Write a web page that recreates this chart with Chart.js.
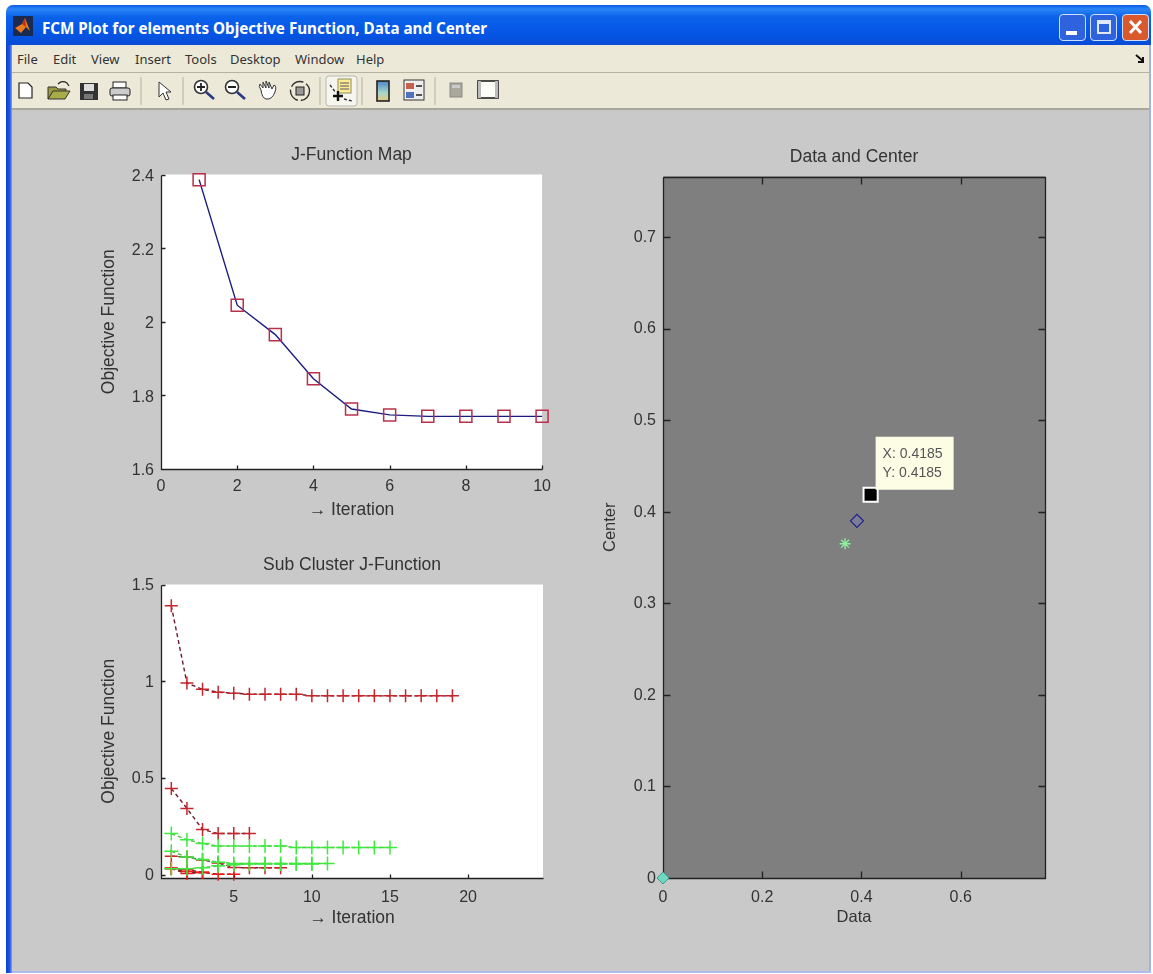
<!DOCTYPE html>
<html>
<head>
<meta charset="utf-8">
<title>FCM Plot for elements Objective Function, Data and Center</title>
<script src="https://cdn.jsdelivr.net/npm/chart.js@4"></script>
<style>
  html, body { margin: 0; padding: 0; background: #fff; overflow: hidden; }
  body { width: 1153px; height: 974px; position: relative; font-family: "Liberation Sans", Arial, sans-serif; }
  #win { position: absolute; left: 6px; top: 5px; width: 1145px; height: 968px; background: #c9c9c9; border-radius: 7px 7px 0 0; overflow: hidden;
         box-shadow: inset 0 -2px 0 #aebcf0, inset -2px 0 0 #a4b0ea; }
  #leftedge { position: absolute; left: 0; top: 40px; width: 6px; bottom: 0; background: linear-gradient(90deg, #0a3fd0, #1c56e6 60%, #7fa0f0); }
  #titlebar { position: absolute; left: 0; top: 0; right: 0; height: 40px; color: #fff;
              background: linear-gradient(180deg, #0a5cea 0, #2a86f6 10%, #0a62ea 30%, #0554e4 75%, #0a4cd4 100%); }
  #titlebar span { position: absolute; left: 36px; top: 13px; font: bold 15.2px "Noto Sans", sans-serif; white-space: nowrap; }
  #logo { position: absolute; left: 7px; top: 11px; }
  .winbtn { position: absolute; top: 9px; height: 27px; border: 1px solid #cfe0ff; border-radius: 4px; box-sizing: border-box; background: #2f63de; }
  #menubar { position: absolute; left: 6px; right: 2px; top: 40px; height: 27px; background: #ece9d8; border-bottom: 1px solid #b5b2a2; }
  #menubar span { position: absolute; top: 5px; font: 13px "Noto Sans", sans-serif; color: #333; }
  #toolbar { position: absolute; left: 6px; right: 2px; top: 68px; height: 35px; background: #ece9d8; border-bottom: 2px solid #aaa89a; }
  #toolbar svg { position: absolute; left: 0; top: 0; }
  canvas { position: absolute; }
</style>
</head>
<body>
<div id="win">
  <div id="titlebar">
    <svg id="logo" width="20" height="20" viewBox="0 0 20 20"><rect width="20" height="20" fill="#1a2a50"/><path d="M2 12 L9 8 L12 2 L17 15 L13 11 L8 17z" fill="#e87a20"/><path d="M9 8 L12 2 L13 11z" fill="#c03010"/></svg>
    <span>FCM Plot for elements Objective Function, Data and Center</span>
    <div class="winbtn" style="left:1053px;width:27px"><div style="position:absolute;left:6px;bottom:5px;width:11px;height:4px;background:#fff"></div></div>
    <div class="winbtn" style="left:1084px;width:27px"><div style="position:absolute;left:6px;top:5px;width:14px;height:14px;border:2px solid #dfe8ff;border-top-width:4px;box-sizing:border-box"></div></div>
    <div class="winbtn" style="left:1116px;width:27px;background:#d9582c">
      <svg width="25" height="25"><path d="M7 6 L18 18 M18 6 L7 18" stroke="#fff" stroke-width="3"/></svg>
    </div>
  </div>
  <div id="leftedge"></div>
  <div id="menubar">
    <span style="left:5px">File</span><span style="left:41px">Edit</span><span style="left:79px">View</span><span style="left:123px">Insert</span><span style="left:173px">Tools</span><span style="left:218px">Desktop</span><span style="left:283px">Window</span><span style="left:344px">Help</span>
    <svg style="position:absolute;right:3px;top:9px" width="12" height="10"><path d="M2 1 L9 7 M9 3 V8 H4" stroke="#111" stroke-width="2" fill="none"/></svg>
  </div>
  <div id="toolbar">
    <svg width="520" height="35" viewBox="12 73 520 35">
      <path d="M19 83h9l4 4v11H19z" fill="#fff" stroke="#222" stroke-width="1.2"/>
      <path d="M48 87h8l2 2h8v3H53l-5 7z" fill="#9a9a40" stroke="#333"/><path d="M48 99l5-8h17l-5 8z" fill="#a8ac48" stroke="#333"/><path d="M58 84q4-4 9-1l2 3" fill="none" stroke="#222" stroke-width="1.2"/>
      <rect x="80" y="83" width="18" height="17" fill="#333"/><rect x="84" y="84" width="10" height="7" fill="#ddd"/><rect x="84" y="94" width="9" height="5" fill="#777"/>
      <rect x="113" y="82" width="13" height="6" fill="#fff" stroke="#222"/><rect x="110" y="88" width="20" height="8" rx="2" fill="#ccc" stroke="#222"/><rect x="113" y="95" width="14" height="5" fill="#fff" stroke="#222"/>
      <path d="M159 82 V97 L163 93 L166 100 L169 99 L166 92 L171 92z" fill="#fff" stroke="#333"/>
      <g fill="#fff" stroke="#333" stroke-width="1.6"><circle cx="201" cy="87" r="6.5"/><circle cx="232" cy="87" r="6.5"/></g>
      <path d="M206 92 L214 99 M237 92 L245 99" stroke="#2a3a80" stroke-width="2.6"/>
      <path d="M197 87h8M201 83v8M228 87h8" stroke="#222" stroke-width="1.8"/>
      <path d="M261 90 Q258 86 260 84 L263 88 V82 L266 88 V81 L269 88 V82 L272 89 L274 85 Q277 86 275 92 Q272 100 266 99 Q262 98 261 90z" fill="#fff" stroke="#333"/>
      <circle cx="300" cy="91" r="9.5" fill="none" stroke="#333" stroke-width="1.4" stroke-dasharray="14 3"/><rect x="296" y="87" width="8" height="8" fill="#999" stroke="#222"/>
      <rect x="326" y="76" width="31" height="30" rx="3" fill="#f6f5ee" stroke="#b8b8b0"/>
      <rect x="338" y="79" width="13" height="14" fill="#ffec90" stroke="#889060"/><path d="M340 83h9M340 86h9M340 89h9" stroke="#556" stroke-width="1"/>
      <path d="M330 85 L336 93 M344 99 L352 101" stroke="#334" stroke-width="1.4" stroke-dasharray="3 2"/><path d="M333 96h10M338 91v10" stroke="#111" stroke-width="2.4"/>
      <defs><linearGradient id="cb" x1="0" y1="0" x2="0" y2="1"><stop offset="0" stop-color="#4a86c8"/><stop offset=".6" stop-color="#a8d8c8"/><stop offset="1" stop-color="#e8c880"/></linearGradient></defs>
      <rect x="377" y="81" width="12" height="20" fill="url(#cb)" stroke="#222" stroke-width="1.6"/>
      <rect x="404" y="80" width="20" height="20" fill="#eee" stroke="#333"/><rect x="406" y="83" width="8" height="6" fill="#c86050"/><rect x="406" y="92" width="8" height="6" fill="#5070c0"/><path d="M416 86h6M416 95h6" stroke="#222" stroke-width="1.4"/>
      <rect x="450" y="83" width="12" height="14" fill="#aaa89a" stroke="#888"/><rect x="452" y="85" width="8" height="3" fill="#ccc"/>
      <rect x="478" y="81" width="20" height="17" fill="#fdfdf8" stroke="#222" stroke-width="1.6"/><rect x="478" y="81" width="3" height="17" fill="#bbb"/><rect x="495" y="81" width="3" height="17" fill="#bbb"/>
      <g stroke="#b5b2a2"><path d="M141 77v28M183 77v28M320 77v28M362 77v28M435 77v28"/></g>
    </svg>
  </div>
</div>
<canvas id="mapChart"></canvas>
<canvas id="subChart"></canvas>
<canvas id="centerChart"></canvas>
<script>
// J-Function Map
const mapIter = [1, 2, 3, 4, 5, 6, 7, 8, 9, 10];
const mapJ = [2.386, 2.045, 1.965, 1.845, 1.763, 1.747, 1.743, 1.743, 1.743, 1.743];
const mapXTicks = [0, 2, 4, 6, 8, 10];
const mapYTicks = [1.6, 1.8, 2, 2.2, 2.4];

// Sub Cluster J-Function
const subIter = [1, 2, 3, 4, 5, 6, 7, 8, 9, 10, 11, 12, 13, 14, 15, 16, 17, 18, 19];
const redA = [1.39, 0.99, 0.958, 0.943, 0.938, 0.933, 0.933, 0.933, 0.933, 0.924, 0.924, 0.924, 0.924, 0.924, 0.924, 0.924, 0.924, 0.924, 0.924];
const redB = [0.445, 0.342, 0.233, 0.212, 0.212, 0.212];
const redC = [0.095, 0.09, 0.075, 0.06, 0.036, 0.035, 0.035, 0.035];
const redD = [0.031, 0.015, 0.01, 0.002, 0.002];
const redE = [0.034, 0.025, 0.012];
const redF = [0.03, 0.005, 0.01];
const greenA = [0.212, 0.18, 0.16, 0.147, 0.147, 0.147, 0.147, 0.147, 0.14, 0.14, 0.14, 0.14, 0.14, 0.14, 0.14];
const greenB = [0.12, 0.09, 0.078, 0.064, 0.057, 0.057, 0.057, 0.057, 0.057, 0.057, 0.057];
const greenC = [0.03, 0.03, 0.035, 0.045, 0.05, 0.055, 0.055, 0.055, 0.055, 0.055];
const subXTicks = [5, 10, 15, 20];
const subYTicks = [0, 0.5, 1, 1.5];

// Data and Center
const centerXTicks = [0, 0.2, 0.4, 0.6];
const centerYTicks = [0, 0.1, 0.2, 0.3, 0.4, 0.5, 0.6, 0.7];
const centerBlue = [0.391, 0.39];
const centerGreen = [0.367, 0.365];
const centerOrigin = [0, 0];
const cursorPoint = [0.4185, 0.4185];
const cursorLabels = ["X: 0.4185", "Y: 0.4185"];

const FONT = "Liberation Sans";
const TEXT = "#333";
const TITLE_SIZE = 17.5;

function pairs(xs, ys) {
  return ys.map((y, i) => ({ x: xs[i], y: y }));
}

// matlab style inward ticks + axis lines
const axesPlugin = {
  id: "matlabAxes",
  beforeDraw(chart, args, opts) {
    const a = chart.chartArea, ctx = chart.ctx;
    ctx.save();
    ctx.fillStyle = opts.bg;
    ctx.fillRect(a.left, a.top, a.right - a.left, a.bottom - a.top);
    ctx.restore();
  },
  beforeDatasetsDraw(chart, args, opts) {
    const a = chart.chartArea, ctx = chart.ctx, len = opts.tickLen;
    const L = Math.round(a.left) + 0.5, R = Math.round(a.right) + 0.5;
    const T = Math.round(a.top) + 0.5, B = Math.round(a.bottom) + 0.5;
    ctx.save();
    ctx.strokeStyle = "#222";
    ctx.lineWidth = 1.3;
    ctx.beginPath();
    ctx.moveTo(L, T); ctx.lineTo(L, B); ctx.lineTo(R, B);
    if (opts.box) { ctx.lineTo(R, T); ctx.lineTo(L, T); }
    chart.scales.x.ticks.forEach(t => {
      const px = Math.round(chart.scales.x.getPixelForValue(t.value)) + 0.5;
      ctx.moveTo(px, B); ctx.lineTo(px, B - len);
      if (opts.box) { ctx.moveTo(px, T); ctx.lineTo(px, T + len); }
    });
    chart.scales.y.ticks.forEach(t => {
      const py = Math.round(chart.scales.y.getPixelForValue(t.value)) + 0.5;
      ctx.moveTo(L, py); ctx.lineTo(L + len, py);
      if (opts.box) { ctx.moveTo(R, py); ctx.lineTo(R - len, py); }
    });
    ctx.stroke();
    ctx.restore();
  }
};

// the data cursor box next to the black marker
const cursorPlugin = {
  id: "cursorTip",
  afterDatasetsDraw(chart) {
    const ctx = chart.ctx;
    const px = chart.scales.x.getPixelForValue(cursorPoint[0]);
    const py = chart.scales.y.getPixelForValue(cursorPoint[1]);
    const bx = px + 5, by = py - 58;
    ctx.save();
    ctx.fillStyle = "#fdfde6";
    ctx.fillRect(bx, by, 78, 53);
    ctx.fillStyle = "#555";
    ctx.font = "14px " + FONT;
    ctx.textBaseline = "middle";
    ctx.fillText(cursorLabels[0], bx + 7, by + 17);
    ctx.fillText(cursorLabels[1], bx + 7, by + 36);
    ctx.restore();
  }
};

function makeAxes(box) {
  return {
    responsive: false,
    animation: false,
    events: [],
    layout: { padding: { left: 0, right: box.pr, top: 0, bottom: 0 } },
    plugins: {
      legend: { display: false },
      tooltip: { enabled: false },
      title: {
        display: true,
        text: box.title,
        color: TEXT,
        fullSize: false,
        font: { family: FONT, size: TITLE_SIZE, weight: "normal", lineHeight: 1 },
        padding: { top: 0, bottom: box.tp }
      },
      matlabAxes: { bg: box.bg, box: box.box, tickLen: box.tickLen }
    },
    scales: {
      x: {
        type: "linear",
        min: box.xMin,
        max: box.xMax,
        grid: { display: false, drawTicks: false },
        border: { display: false },
        afterBuildTicks: s => { s.ticks = box.xTicks.map(v => ({ value: v })); },
        afterFit: s => { s.height = box.bottom; },
        ticks: { autoSkip: false, maxRotation: 0, padding: box.xPad, color: TEXT,
                 font: { family: FONT, size: 16 }, callback: v => String(v) },
        title: { display: true, text: box.xTitle, color: TEXT,
                 font: { family: FONT, size: box.axisSize }, padding: 0 }
      },
      y: {
        type: "linear",
        min: box.yMin,
        max: box.yMax,
        grid: { display: false, drawTicks: false },
        border: { display: false },
        afterBuildTicks: s => { s.ticks = box.yTicks.map(v => ({ value: v })); },
        afterFit: s => { s.width = box.left; },
        ticks: { autoSkip: false, padding: 7, labelOffset: box.yOff, color: TEXT,
                 font: { family: FONT, size: 16 }, callback: v => String(v) },
        title: { display: true, text: box.yTitle, color: TEXT,
                 font: { family: FONT, size: box.axisSize }, padding: 0 }
      }
    }
  };
}

function place(id, b) {
  const c = document.getElementById(id);
  const w = b.left + b.plotW + b.pr;
  const h = TITLE_SIZE + b.tp + b.plotH + b.bottom;
  c.width = w;
  c.height = Math.ceil(h);
  c.style.left = (b.plotX - b.left) + "px";
  c.style.top = Math.floor(b.plotY - TITLE_SIZE - b.tp) + "px";
  return c;
}

function lineSet(xs, ys, color, lineColor, style, r, dash) {
  return {
    data: pairs(xs, ys),
    borderColor: lineColor,
    borderWidth: 1.4,
    borderDash: dash || [],
    pointStyle: style,
    pointRadius: r,
    pointBorderColor: color,
    pointBorderWidth: 1.5,
    pointBackgroundColor: "transparent",
    tension: 0,
    clip: false
  };
}

const mapBox = { plotX: 161, plotY: 175, plotW: 382, plotH: 294, left: 62, bottom: 52, pr: 16, tp: 11,
  xPad: 8, yOff: 2, tickLen: 4, axisSize: 17.5,
  title: "J-Function Map", bg: "#fff", box: false, xMin: 0, xMax: 10, yMin: 1.6, yMax: 2.4,
  xTicks: mapXTicks, yTicks: mapYTicks, xTitle: "\u2192 Iteration", yTitle: "Objective Function" };
new Chart(place("mapChart", mapBox), {
  type: "line",
  data: { datasets: [lineSet(mapIter, mapJ, "#b8304a", "#1c1c80", "rect", 8.5)] },
  options: makeAxes(mapBox),
  plugins: [axesPlugin]
});

const subBox = { plotX: 161, plotY: 585, plotW: 382, plotH: 293, left: 62, bottom: 51, pr: 16, tp: 11,
  xPad: 10, yOff: 1, tickLen: 4, axisSize: 17.5,
  title: "Sub Cluster J-Function", bg: "#fff", box: false, xMin: 0.34, xMax: 24.8, yMin: -0.018, yMax: 1.5,
  xTicks: subXTicks, yTicks: subYTicks, xTitle: "\u2192 Iteration", yTitle: "Objective Function" };
const RED = "#c8242c", GREEN = "#3fea3f", RED_LINE = "#6a1c2c", GREEN_LINE = "#50c050";
const DASH = [4, 3];
new Chart(place("subChart", subBox), {
  type: "line",
  data: { datasets: [
    lineSet(subIter, greenA, GREEN, GREEN_LINE, "cross", 7, DASH),
    lineSet(subIter, greenB, GREEN, GREEN_LINE, "cross", 7, DASH),
    lineSet(subIter, greenC, GREEN, GREEN_LINE, "cross", 7, DASH),
    lineSet(subIter, redA, RED, RED_LINE, "cross", 6.5, DASH),
    lineSet(subIter, redB, RED, RED_LINE, "cross", 6.5, DASH),
    lineSet(subIter, redC, RED, RED_LINE, "cross", 6.5, DASH),
    lineSet(subIter, redD, "#f01818", RED_LINE, "cross", 6.5, DASH),
    lineSet(subIter, redE, "#f01818", RED_LINE, "cross", 6.5, DASH),
    lineSet(subIter, redF, "#f01818", RED_LINE, "cross", 6.5, DASH)
  ] },
  options: makeAxes(subBox),
  plugins: [axesPlugin]
});

const centerBox = { plotX: 663, plotY: 177, plotW: 382, plotH: 701, left: 62, bottom: 49, pr: 16, tp: 11,
  xPad: 10, yOff: 0.5, tickLen: 7, axisSize: 16.5,
  title: "Data and Center", bg: "#7f7f7f", box: true, xMin: 0, xMax: 0.77, yMin: 0, yMax: 0.766,
  xTicks: centerXTicks, yTicks: centerYTicks, xTitle: "Data", yTitle: "Center" };
new Chart(place("centerChart", centerBox), {
  type: "scatter",
  data: { datasets: [
    { data: [{ x: centerOrigin[0], y: centerOrigin[1] }], pointStyle: "rectRot", pointRadius: 6,
      pointBackgroundColor: "#6fd8c0", pointBorderColor: "#3a9a90", pointBorderWidth: 1, clip: false },
    { data: [{ x: centerBlue[0], y: centerBlue[1] }], pointStyle: "rectRot", pointRadius: 6.5,
      pointBackgroundColor: "#7c7c96", pointBorderColor: "#20208a", pointBorderWidth: 1.2, clip: false },
    { data: [{ x: centerGreen[0], y: centerGreen[1] }], pointStyle: "star", pointRadius: 5.5,
      pointBorderColor: "#8cf09c", pointBorderWidth: 1.4, clip: false },
    { data: [{ x: cursorPoint[0], y: cursorPoint[1] }], pointStyle: "rect", pointRadius: 10,
      pointBackgroundColor: "#000", pointBorderColor: "#fff", pointBorderWidth: 2, clip: false }
  ] },
  options: makeAxes(centerBox),
  plugins: [axesPlugin, cursorPlugin]
});
</script>
</body>
</html>
